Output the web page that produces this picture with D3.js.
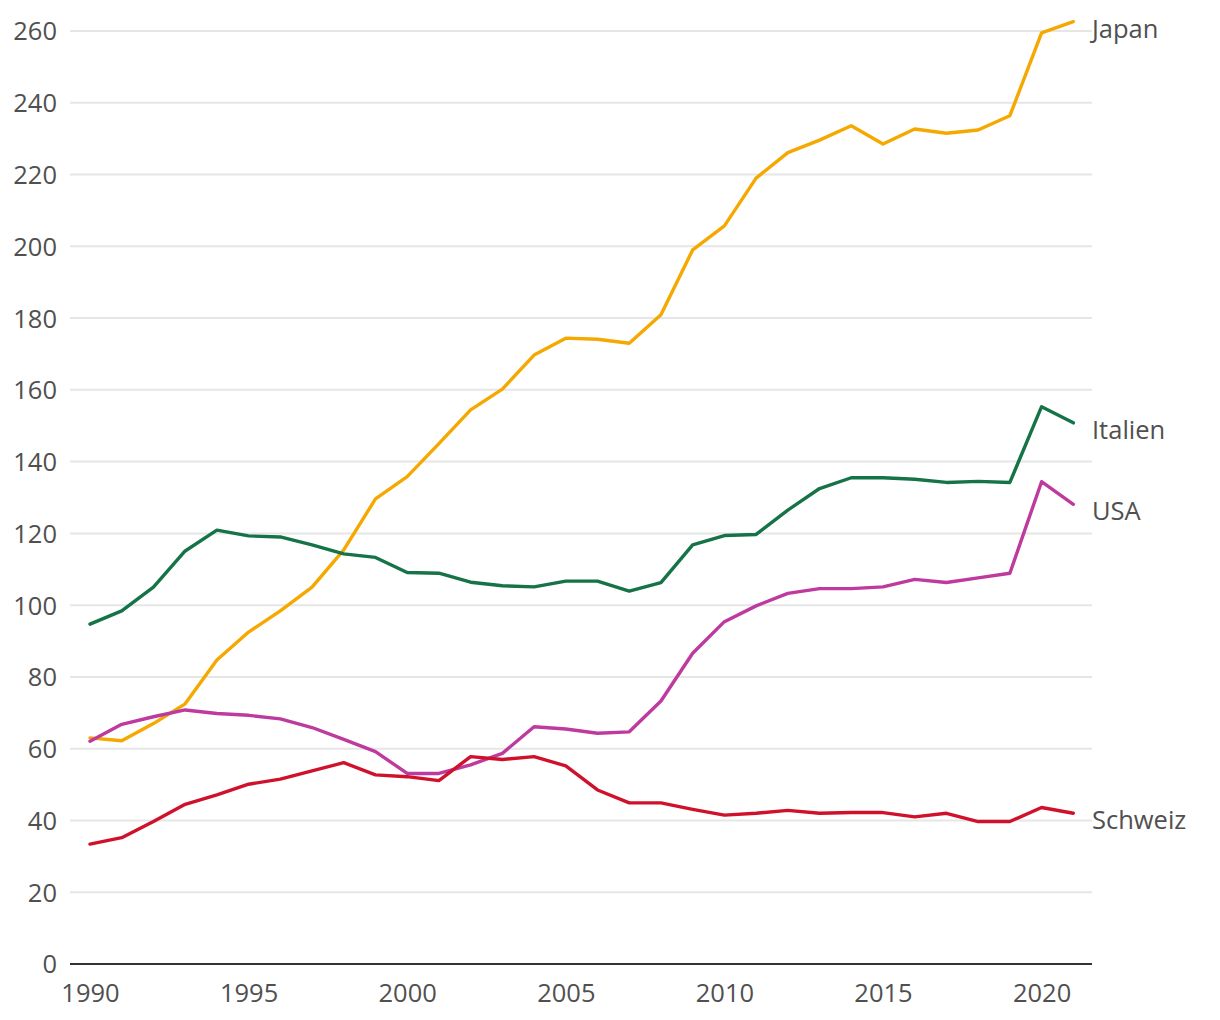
<!DOCTYPE html>
<html><head><meta charset="utf-8">
<script src="https://cdn.jsdelivr.net/npm/d3@7"></script>
<style>
body{margin:0;background:#fff;}
text{font-family:"Open Sans","Noto Sans",sans-serif;}
</style></head>
<body><svg id="c" width="1220" height="1020"></svg>
<script>
const years = d3.range(1990, 2022);
const japan = [63,62.2,67,72.5,84.7,92.5,98.4,105,115.4,129.6,135.8,145,154.4,160.2,169.7,174.4,174.1,173,180.9,199,205.7,219,226.1,229.6,233.6,228.5,232.7,231.5,232.4,236.4,259.5,262.6];
const italien = [94.7,98.4,105,115.1,120.9,119.3,119,116.8,114.3,113.3,109.1,108.9,106.4,105.4,105.1,106.7,106.7,103.9,106.3,116.8,119.4,119.7,126.5,132.5,135.5,135.5,135.1,134.2,134.5,134.2,155.3,150.8];
const usa = [62.1,66.8,68.9,70.8,69.8,69.3,68.3,65.9,62.6,59.2,53.1,53.1,55.5,58.7,66.1,65.5,64.3,64.7,73.3,86.6,95.4,99.8,103.3,104.6,104.6,105.1,107.2,106.3,107.6,108.9,134.4,128.1];
const schweiz = [33.4,35.2,39.7,44.5,47.1,50.1,51.5,53.8,56.1,52.7,52.2,51.1,57.8,57,57.8,55.2,48.5,44.9,44.9,43.1,41.5,42,42.8,42,42.2,42.2,41,42,39.7,39.7,43.6,42];
const seriesNames = ["Japan","Italien","USA","Schweiz"];
const seriesColors = ["#f5a800","#157347","#be3a9e","#d0112b"];
const yTicks = [0,20,40,60,80,100,120,140,160,180,200,220,240,260];
const xTicks = [1990,1995,2000,2005,2010,2015,2020];

const series = [japan, italien, usa, schweiz];
const svg = d3.select("#c");
const x = d3.scaleLinear().domain([1990,2021]).range([90,1073.3]);
const y = d3.scaleLinear().domain([0,260]).range([964,31]);
const left = 70, right = 1092;
const fs = 25.5, tc = "#505050";

// grid
svg.append("g").selectAll("line").data(yTicks.filter(d=>d>0)).join("line")
  .attr("x1",left).attr("x2",right).attr("y1",d=>y(d)).attr("y2",d=>y(d))
  .attr("stroke","#e6e6e6").attr("stroke-width",2);

// y labels
const yAxis = d3.axisLeft(y).tickValues(yTicks).tickSize(0).tickPadding(0);
const gy = svg.append("g").attr("transform",`translate(57,0)`).call(yAxis);
gy.select(".domain").remove();
gy.selectAll("text").attr("font-size",fs).attr("fill",tc).attr("dy","0.35em");

// x axis
const xAxis = d3.axisBottom(x).tickValues(xTicks).tickFormat(d3.format("d")).tickSize(0).tickPadding(0);
const gx = svg.append("g").attr("transform",`translate(0,964)`).call(xAxis);
gx.select(".domain").remove();
gx.selectAll("text").attr("font-size",fs).attr("fill",tc).attr("dy","0").attr("y",38);
svg.append("line").attr("x1",left).attr("x2",right).attr("y1",964).attr("y2",964)
  .attr("stroke","#333").attr("stroke-width",2);

const line = d3.line().x((d,i)=>x(years[i])).y(d=>y(d));
series.forEach((s,k)=>{
  svg.append("path").attr("d",line(s)).attr("fill","none")
    .attr("stroke",seriesColors[k]).attr("stroke-width",3.4)
    .attr("stroke-linejoin","round").attr("stroke-linecap","round");
  svg.append("text").attr("x",1092).attr("y",y(s[s.length-1])+7)
    .attr("dy","0.35em").attr("font-size",fs).attr("fill",tc).text(seriesNames[k]);
});
</script></body></html>
